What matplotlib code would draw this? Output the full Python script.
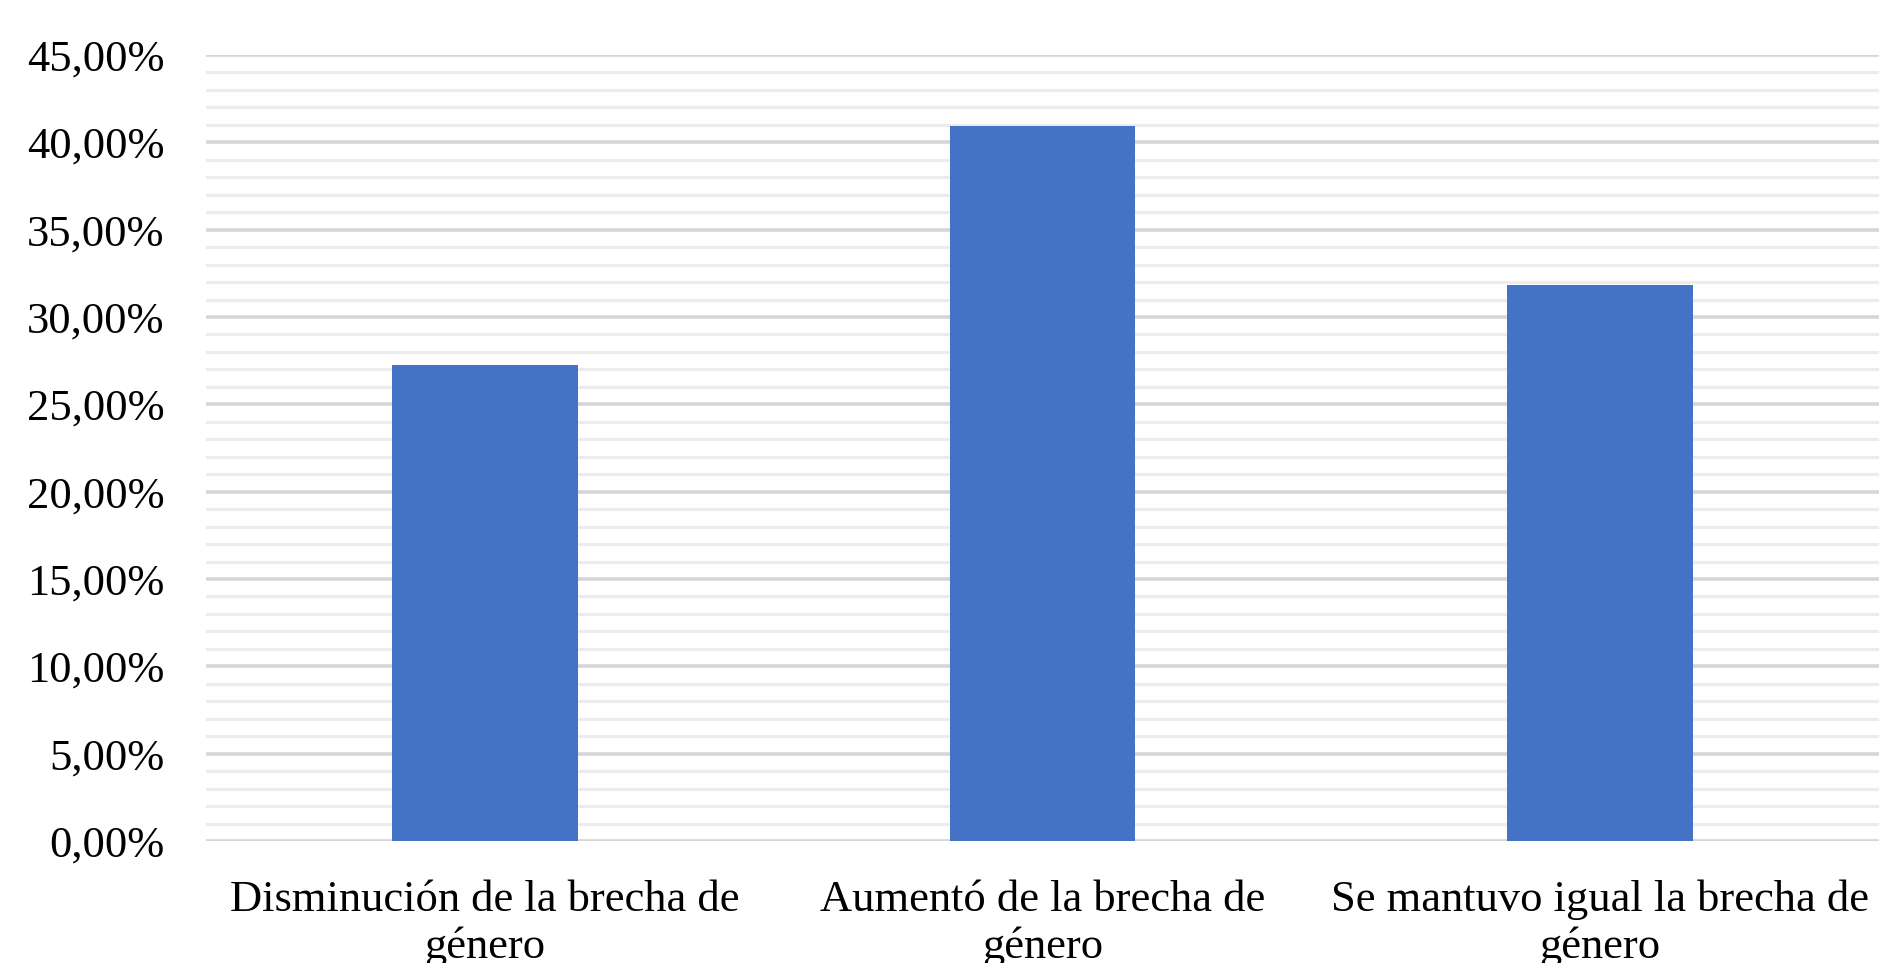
import matplotlib
matplotlib.use("Agg")
import matplotlib.pyplot as plt
from matplotlib.ticker import MultipleLocator, FuncFormatter

# data
categorias = ["Disminución de la brecha de\ngénero",
              "Aumentó de la brecha de\ngénero",
              "Se mantuvo igual la brecha de\ngénero"]
porcentajes = [27.27, 40.91, 31.82]

plt.rcParams['font.family'] = ['Liberation Serif', 'DejaVu Serif']

fig = plt.figure(figsize=(18.79, 9.63), dpi=100)
ax = fig.add_axes([206 / 1879, 1 - 841 / 963, (1879 - 206) / 1879, (841 - 55) / 963])

x = range(len(categorias))
ax.bar(x, porcentajes, width=0.333, color='#4472C4', zorder=3)

ax.set_xlim(-0.5, 2.5)
ax.set_ylim(0, 45)
ax.yaxis.set_major_locator(MultipleLocator(5))
ax.yaxis.set_minor_locator(MultipleLocator(1))
ax.yaxis.set_major_formatter(FuncFormatter(lambda v, p: f"{v:.2f}%".replace('.', ',')))

#gridlines like excel
ax.grid(which='major', axis='y', color='#d6d6d6', linewidth=2.6, zorder=0)
ax.grid(which='minor', axis='y', color='#ececec', linewidth=2.3, zorder=0)
ax.set_axisbelow(True)

for s in ax.spines.values():
    s.set_visible(False)

ax.set_xticks(list(x))
ax.set_xticklabels(categorias, fontsize=32, linespacing=1.2)
ax.tick_params(axis='x', length=0, pad=28, colors='#000000')
ax.tick_params(axis='y', which='both', length=0, pad=30, labelsize=32, colors='#000000')

fig.savefig("out.png", dpi=100, facecolor='white')
